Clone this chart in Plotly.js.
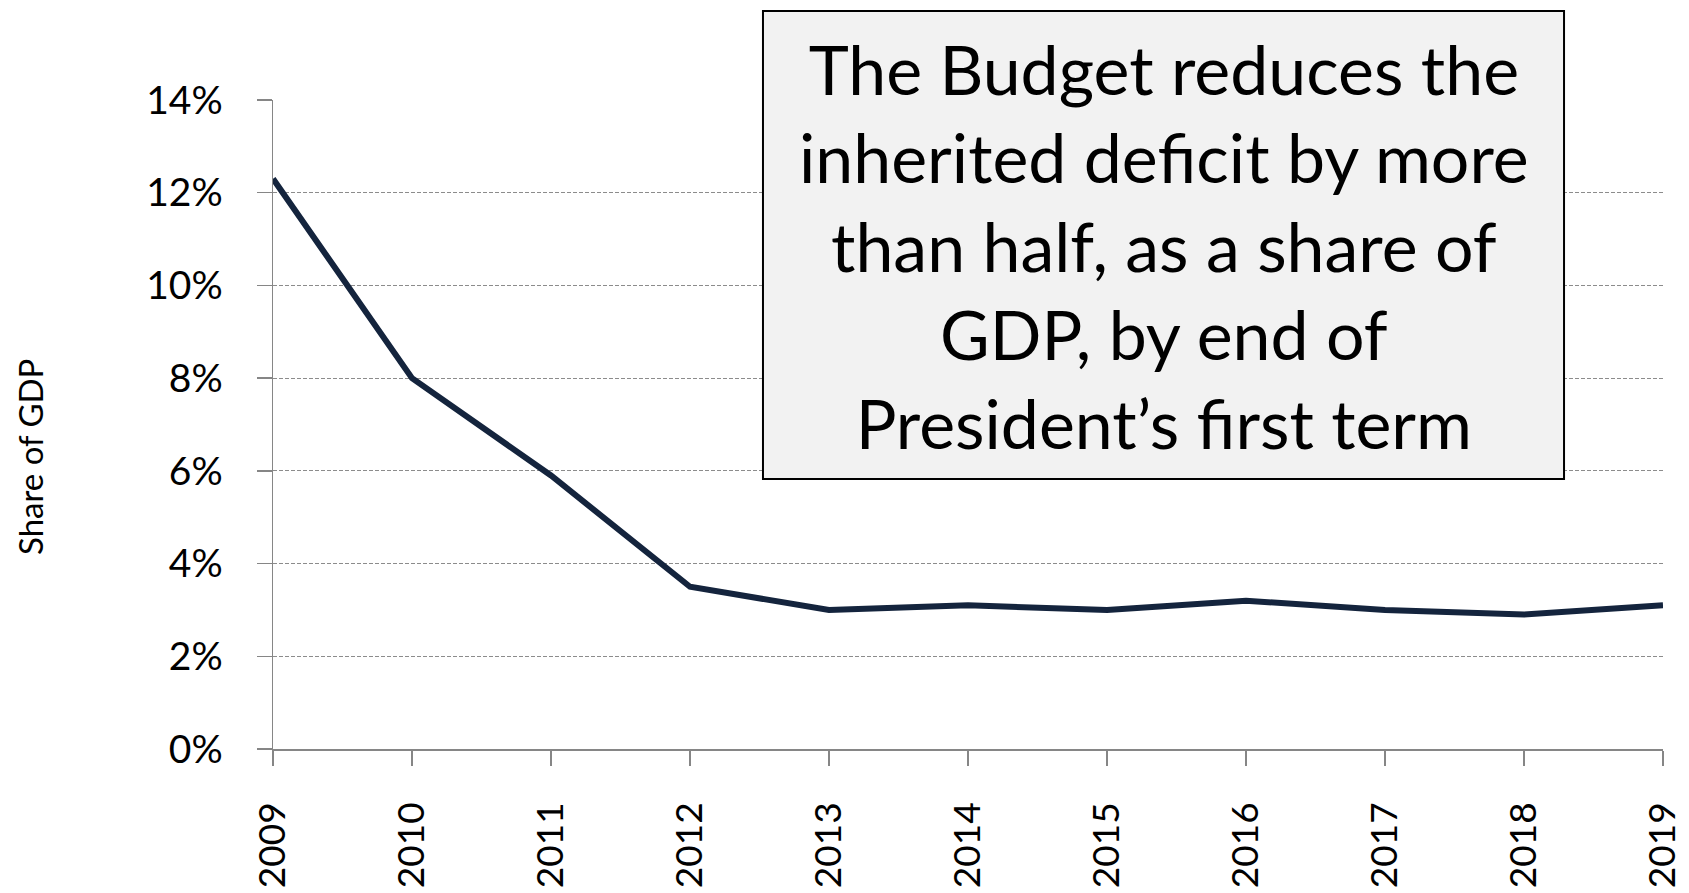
<!DOCTYPE html>
<html>
<head>
<meta charset="utf-8">
<script src="https://cdn.plot.ly/plotly-3.0.1.min.js"></script>
<style>html,body{margin:0;padding:0;background:#fff;}#chart{width:1689px;height:893px;}</style>
</head>
<body>
<div id="chart"></div>
<script>
const years = [2009, 2010, 2011, 2012, 2013, 2014, 2015, 2016, 2017, 2018, 2019];
const deficitShare = [12.3, 8.0, 5.9, 3.5, 3.0, 3.1, 3.0, 3.2, 3.0, 2.9, 3.1];
const yTickVals = [0, 2, 4, 6, 8, 10, 12, 14];
const yTickText = ["0%", "2%", "4%", "6%", "8%", "10%", "12%", "14%"];
const yTitle = "Share of GDP";
const calloutText = "The Budget reduces the<br>inherited deficit by more<br>than half, as a share of<br>GDP, by end of<br>President’s first term";

const FONT = "Lato, 'Open Sans', sans-serif";
const axisGray = "#868686";

const trace = {
  x: years,
  y: deficitShare,
  type: "scatter",
  mode: "lines",
  line: {color: "#14243d", width: 6},
  hoverinfo: "skip"
};

const layout = {
  width: 1689,
  height: 893,
  margin: {l: 273, r: 26, t: 100, b: 144, pad: 0},
  paper_bgcolor: "#ffffff",
  plot_bgcolor: "#ffffff",
  showlegend: false,
  font: {family: FONT, color: "#000000", size: 40},
  xaxis: {
    type: "linear",
    range: [2009, 2019],
    tickmode: "array",
    tickvals: years,
    ticktext: years.map(String),
    tickangle: -90,
    ticks: "outside",
    ticklen: 15,
    tickwidth: 1.5,
    tickcolor: axisGray,
    showline: true,
    linecolor: axisGray,
    linewidth: 1.5,
    showgrid: false,
    zeroline: false,
    ticklabelstandoff: 22,
    tickfont: {family: FONT, size: 37, color: "#000"}
  },
  yaxis: {
    range: [0, 14],
    tickmode: "array",
    tickvals: yTickVals,
    ticktext: yTickText,
    ticks: "outside",
    ticklen: 15,
    tickwidth: 1.5,
    tickcolor: axisGray,
    showline: true,
    linecolor: axisGray,
    linewidth: 1.5,
    showgrid: true,
    gridcolor: "#8c8c8c",
    gridwidth: 1,
    griddash: "4px,2px",
    zeroline: false,
    ticklabelstandoff: 26,
    tickfont: {family: FONT, size: 39, color: "#000"}
  },
  shapes: [{
    type: "rect",
    xref: "paper", yref: "paper",
    x0: 0.3525, x1: 0.9288,
    y0: 0.416, y1: 1.137,
    fillcolor: "#f2f2f2",
    line: {color: "#000000", width: 2},
    layer: "above"
  }],
  annotations: [
    {
      xref: "paper", yref: "paper",
      x: 0.6407, y: 0.7765,
      xanchor: "center", yanchor: "middle",
      text: calloutText,
      showarrow: false,
      align: "center",
      font: {family: FONT, size: 68, color: "#000"}
    },
    {
      xref: "paper", yref: "paper",
      x: -0.1748, y: 0.45,
      xanchor: "center", yanchor: "middle",
      text: yTitle,
      textangle: -90,
      showarrow: false,
      font: {family: FONT, size: 33, color: "#000"}
    }
  ]
};

Plotly.newPlot("chart", [trace], layout, {displayModeBar: false, staticPlot: true});
</script>
</body>
</html>
